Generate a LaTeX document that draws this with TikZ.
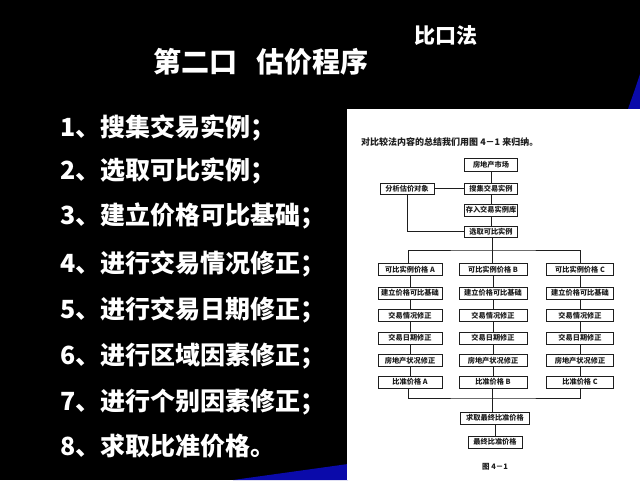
\documentclass[tikz,border=0pt]{standalone}
\usepackage{fontspec}
\setmainfont{Noto Sans CJK SC}
\definecolor{slideblue}{RGB}{10,10,170}
\definecolor{inkgray}{RGB}{30,30,30}
\begin{document}
\begin{tikzpicture}[x=1pt,y=-1pt,
  fbox/.style={draw=inkgray, line width=0.8pt, inner sep=0pt, fill=white,
    minimum height=12pt, font=\fontsize{7.2}{8}\selectfont\bfseries, text=inkgray},
  conn/.style={draw=inkgray, line width=0.8pt},
  listitem/.style={anchor=west, text=white, inner sep=0pt, font=\fontsize{25}{28}\selectfont\bfseries},
]
% background
\fill[black] (0,0) rectangle (640,480);
\useasboundingbox (0,0) rectangle (640,480);
% blue decorations
\fill[slideblue] (233,480) -- (348,464) -- (348,480) -- cycle;
\fill[slideblue] (640,74) -- (634,92) -- (628,109) -- (640,109) -- cycle;
% white picture
\fill[white] (347,109) rectangle (640,480);

% title
\node[text=white, font=\fontsize{28}{32}\selectfont\bfseries, inner sep=0pt] (title) at (261,62) {第二口\hspace{20pt}估价程序};
\node[text=white, font=\fontsize{21}{24}\selectfont\bfseries, inner sep=0pt] (sub) at (446,36) {比口法};

% list
\node[listitem] (l1) at (60,128) {1、搜集交易实例；};
\node[listitem] (l2) at (60,171) {2、选取可比实例；};
\node[listitem] (l3) at (60,216) {3、建立价格可比基础；};
\node[listitem] (l4) at (60,264) {4、进行交易情况修正；};
\node[listitem] (l5) at (60,310) {5、进行交易日期修正；};
\node[listitem] (l6) at (60,356) {6、进行区域因素修正；};
\node[listitem] (l7) at (60,402) {7、进行个别因素修正；};
\node[listitem] (l8) at (60,446) {8、求取比准价格。};

% caption
\node[anchor=west, inner sep=0pt, text=inkgray, font=\fontsize{9}{10}\selectfont\bfseries] (cap) at (361,142) {对比较法内容的总结我们用图 4－1 来归纳。};

% top flow
\node[fbox, minimum width=53pt, minimum height=13pt] (m1) at (491,164.5) {房地产市场};
\node[fbox, minimum width=53pt, minimum height=11pt] (m2) at (491,188.5) {搜集交易实例};
\node[fbox, minimum width=54pt, minimum height=11pt] (an) at (407,188.5) {分析估价对象};
\node[fbox, minimum width=53pt] (m3) at (491,210) {存入交易实例库};
\node[fbox, minimum width=53pt, minimum height=11pt] (m4) at (491,231.5) {选取可比实例};
\draw[conn] (m1) -- (m2);
\draw[conn] (m2) -- (m3);
\draw[conn] (m3) -- (m4);
\draw[conn] (an) -- (m2);
\draw[conn] (an.south) |- (m4.west);

% columns
\foreach \col/\cx/\w/\L in {a/410/64/A, b/493/68/B, c/580/67/C}{
  \node[fbox, minimum width=\w pt] (\col1) at (\cx,269.5) {可比实例价格 \L};
  \node[fbox, minimum width=\w pt] (\col2) at (\cx,293) {建立价格可比基础};
  \node[fbox, minimum width=\w pt] (\col3) at (\cx,315.5) {交易情况修正};
  \node[fbox, minimum width=\w pt] (\col4) at (\cx,338) {交易日期修正};
  \node[fbox, minimum width=\w pt] (\col5) at (\cx,360.5) {房地产状况修正};
  \node[fbox, minimum width=\w pt] (\col6) at (\cx,382) {比准价格 \L};
  \draw[conn] (\col1) -- (\col2);
  \draw[conn] (\col2) -- (\col3);
  \draw[conn] (\col3) -- (\col4);
  \draw[conn] (\col4) -- (\col5);
  \draw[conn] (\col5) -- (\col6);
}
\coordinate (br) at (492,250);
\coordinate (mg) at (492,398);
\draw[conn] (m4.south -| br) -- (br);
\draw[conn] (a1.north -| 408,0) |- (br) -| (c1.north);
\draw[conn] (br) -- (b1.north -| br);
\draw[conn] (a6.south -| 408,0) |- (mg) -| (c6.south);
\draw[conn] (b6.south -| mg) -- (mg);

\node[fbox, minimum width=69pt] (f1) at (495,418) {求取最终比准价格};
\node[fbox, minimum width=54pt] (f2) at (495,442) {最终比准价格};
\draw[conn] (mg) -- (f1.north -| mg);
\draw[conn] (f1) -- (f2);

\node[inner sep=0pt, text=inkgray, font=\fontsize{7.5}{8}\selectfont\bfseries] (fig) at (495,467) {图 4－1};
\end{tikzpicture}
\end{document}
